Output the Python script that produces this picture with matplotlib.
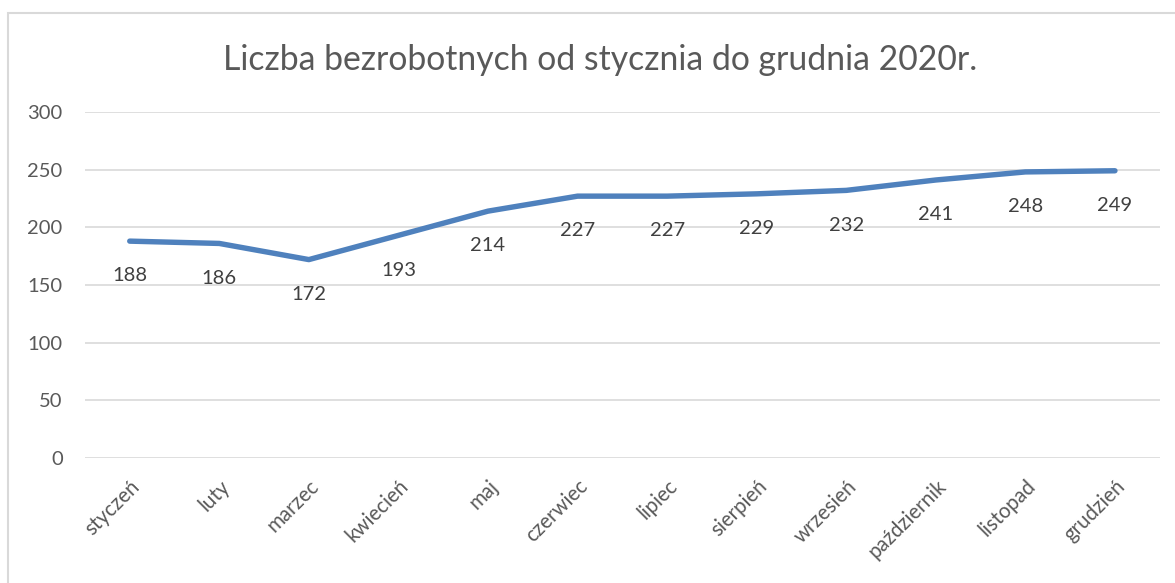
import matplotlib.pyplot as plt
from matplotlib.patches import Rectangle

months = ["styczeń", "luty", "marzec", "kwiecień", "maj", "czerwiec",
          "lipiec", "sierpień", "wrzesień", "październik", "listopad", "grudzień"]
unemployed = [188, 186, 172, 193, 214, 227, 227, 229, 232, 241, 248, 249]
y_ticks = [0, 50, 100, 150, 200, 250, 300]

plt.rcParams["font.family"] = ["Lato", "DejaVu Sans"]

fig = plt.figure(figsize=(11.75, 5.83), dpi=100)
ax = fig.add_axes([0.0723, 0.2144, 0.9147, 0.5936])

x = list(range(len(months)))
ax.plot(x, unemployed, color="#4F81BD", linewidth=3.9, solid_capstyle="round",
        solid_joinstyle="round", zorder=3)

for xi, v in zip(x, unemployed):
    ax.annotate(str(v), (xi, v), xytext=(0, -25), textcoords="offset points",
                ha="center", va="center", fontsize=14.5, color="#404040")

ax.set_xlim(-0.5, len(months) - 0.5)
ax.set_ylim(0, 300)
ax.set_yticks(y_ticks)
ax.set_xticks(x)
ax.set_xticklabels(months, rotation=45, ha="right", va="top",
                   rotation_mode="anchor", fontsize=14.8, color="#595959")
ax.tick_params(axis="x", length=0, pad=13)
ax.tick_params(axis="y", length=0, pad=16, labelsize=14.5, labelcolor="#595959")
ax.grid(axis="y", color="#d9d9d9", linewidth=1.2)
ax.set_axisbelow(True)
for s in ax.spines.values():
    s.set_visible(False)

fig.text(0.511, 0.897, "Liczba bezrobotnych od stycznia do grudnia 2020r.",
         ha="center", va="center", fontsize=24.3, color="#595959")

fig.patches.append(Rectangle((8 / 1175, -0.05), 1.2, 1 - 13 / 583 + 0.05,
                             transform=fig.transFigure, fill=False,
                             edgecolor="#d9d9d9", linewidth=1.5))

fig.savefig("out.png", dpi=100)
